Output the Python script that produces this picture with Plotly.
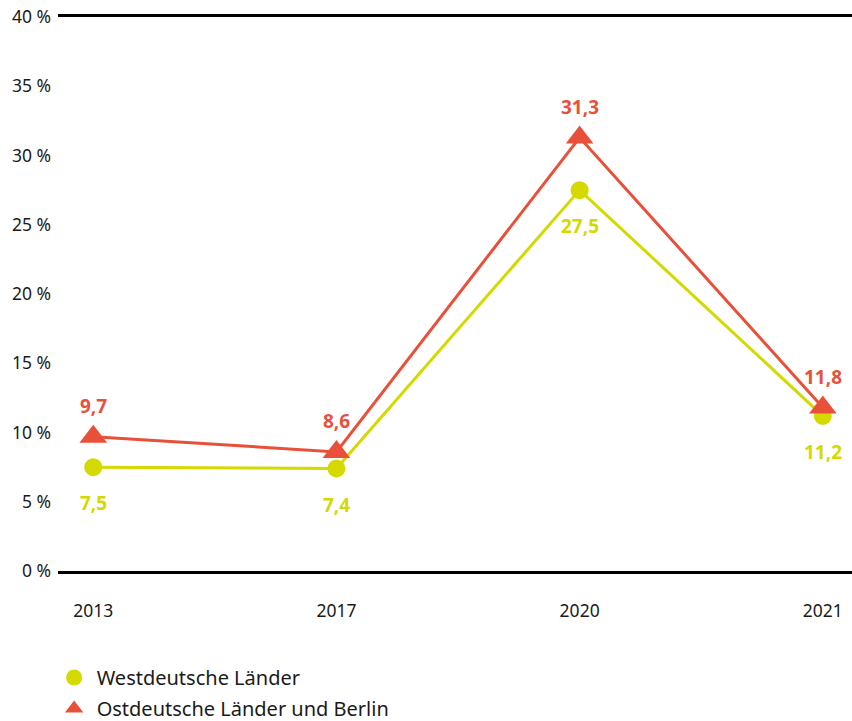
import plotly.graph_objects as go

years = ["2013", "2017", "2020", "2021"]
west = [7.5, 7.4, 27.5, 11.2]
ost = [9.7, 8.6, 31.3, 11.8]
y_ticks = [0, 5, 10, 15, 20, 25, 30, 35, 40]

yellow = "#d4d900"
red = "#e9503a"
font = "Noto Sans"

fig = go.Figure()

fig.add_trace(go.Scatter(x=years, y=west, mode="lines+markers",
                         line=dict(color=yellow, width=3),
                         marker=dict(symbol="circle", size=18, color=yellow),
                         showlegend=False))
fig.add_trace(go.Scatter(x=years, y=ost, mode="lines+markers",
                         line=dict(color=red, width=3),
                         marker=dict(symbol="triangle-up", size=24, color=red),
                         showlegend=False))

# legend entries (markers only)
fig.add_trace(go.Scatter(x=[None], y=[None], mode="markers", name="Westdeutsche Länder",
                         legendgroup="w", marker=dict(symbol="circle", size=18, color=yellow)))
fig.add_trace(go.Scatter(x=[None], y=[None], mode="markers", name="Ostdeutsche Länder und Berlin",
                         legendgroup="o", marker=dict(symbol="triangle-up", size=24, color=red)))

# value labels (x as category index)
def fmt(v):
    return f"{v:.1f}".replace(".", ",")

for i, v in enumerate(west):
    fig.add_annotation(x=i, y=v, text=f"<b>{fmt(v)}</b>", showarrow=False, yshift=-36,
                       font=dict(color=yellow, size=19, family=font))
for i, v in enumerate(ost):
    fig.add_annotation(x=i, y=v, text=f"<b>{fmt(v)}</b>", showarrow=False, yshift=31,
                       font=dict(color=red, size=19, family=font))

fig.update_layout(
    width=852, height=721,
    margin=dict(l=58, r=0, t=17, b=150, autoexpand=False),
    plot_bgcolor="white", paper_bgcolor="white",
    font=dict(family=font, size=17.5, color="#1a1a1a"),
    legend=dict(x=-0.008, xanchor="left", y=-0.157, yanchor="top",
                font=dict(size=20), tracegroupgap=2, itemwidth=35),
    xaxis=dict(type="category", range=[-0.145, 3.12], showgrid=False, automargin=False,
               showline=True, mirror=True, linecolor="black", linewidth=3,
               ticks="", ticklabelstandoff=22),
    yaxis=dict(range=[0, 40], tickvals=y_ticks, ticktext=[f"{t} %" for t in y_ticks],
               showgrid=False, automargin=False,
               zeroline=False, showline=False, ticks="", ticklabelstandoff=6),
)

fig.write_html("out.html", config={"displayModeBar": False},
               post_script="document.body.style.margin='0';")
